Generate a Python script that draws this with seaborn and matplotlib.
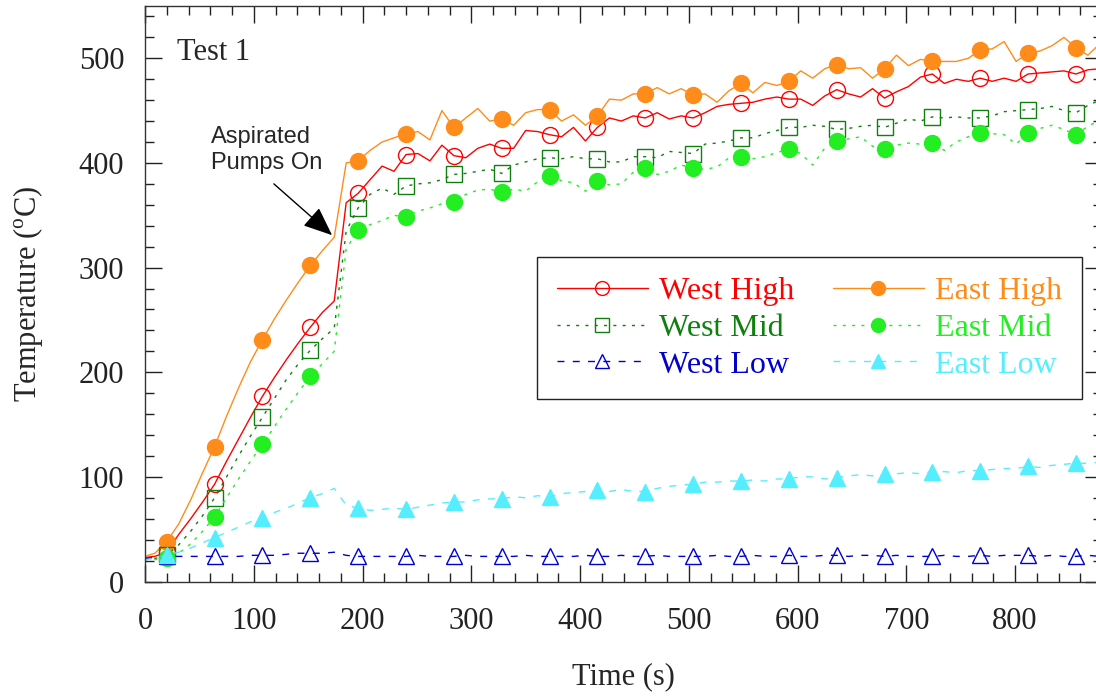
import numpy as np
import pandas as pd
import matplotlib
matplotlib.use("Agg")
import matplotlib.pyplot as plt
import seaborn as sns
from matplotlib.lines import Line2D
from matplotlib.ticker import MultipleLocator


# =========================
# 1. DATA (11 s grid, markers every 44 s)
# =========================
time_s = np.concatenate([[0], np.arange(9, 889, 11)])

west_high = [23, 24,
             28, 45, 60, 76,
             93, 115, 136, 157,
             177, 195, 212, 228,
             243, 257, 268, 362,
             371, 384, 397, 392,
             408, 409, 402, 417,
             407, 405, 414, 418,
             414, 414, 431, 430,
             427, 425, 434, 421,
             434, 443, 440, 445,
             443, 448, 442, 445,
             443, 448, 454, 456,
             457, 458, 461, 463,
             461, 461, 455, 464,
             470, 466, 463, 471,
             462, 468, 473, 482,
             485, 476, 480, 478,
             481, 478, 481, 478,
             485, 486, 487, 488,
             485, 489, 490]

east_high = [24, 27,
             38, 55, 78, 104,
             129, 158, 185, 210,
             231, 251, 269, 286,
             302, 316, 329, 400,
             402, 412, 420, 424,
             428, 430, 422, 450,
             434, 443, 452, 440,
             442, 436, 448, 451,
             451, 440, 446, 436,
             445, 461, 460, 466,
             466, 472, 466, 471,
             465, 466, 458, 469,
             476, 467, 477, 474,
             478, 488, 481, 490,
             494, 490, 491, 481,
             490, 503, 493, 499,
             497, 497, 497, 500,
             508, 509, 516, 497,
             505, 507, 512, 520,
             510, 503, 514]

west_mid = [22, 22,
            25, 35, 48, 63,
            80, 100, 120, 139,
            157, 175, 193, 208,
            221, 232, 242, 335,
            357, 370, 376, 370,
            378, 380, 381, 384,
            389, 390, 392, 394,
            390, 398, 401, 404,
            405, 404, 406, 404,
            404, 401, 401, 406,
            406, 405, 411, 410,
            409, 418, 419, 421,
            424, 424, 428, 431,
            434, 434, 436, 435,
            432, 433, 435, 436,
            434, 438, 442, 440,
            444, 443, 444, 443,
            443, 445, 449, 450,
            451, 452, 454, 450,
            448, 455, 460]

east_mid = [21, 21,
            22, 27, 36, 48,
            62, 80, 98, 115,
            131, 148, 165, 181,
            196, 208, 220, 318,
            336, 341, 345, 350,
            348, 354, 357, 361,
            363, 370, 374, 375,
            372, 375, 373, 382,
            388, 383, 381, 373,
            383, 379, 380, 391,
            395, 389, 392, 398,
            395, 394, 396, 405,
            406, 404, 406, 410,
            413, 409, 398, 414,
            421, 423, 425, 416,
            413, 417, 419, 418,
            419, 412, 420, 425,
            429, 428, 427, 418,
            429, 433, 436, 432,
            427, 435, 441]

west_low = [22, 23,
            24, 24, 24, 24,
            24, 24, 24, 25,
            25, 25, 26, 27,
            27, 27, 28, 25,
            24, 24, 24, 24,
            24, 25, 24, 24,
            24, 25, 24, 24,
            24, 24, 25, 24,
            24, 24, 24, 25,
            24, 24, 25, 24,
            24, 25, 24, 24,
            24, 24, 25, 24,
            24, 25, 24, 24,
            25, 24, 24, 25,
            25, 24, 25, 25,
            24, 25, 24, 24,
            24, 25, 24, 24,
            25, 24, 25, 25,
            25, 24, 25, 24,
            24, 25, 24]

east_low = [21, 22,
            25, 28, 32, 37,
            42, 47, 52, 57,
            61, 66, 70, 75,
            80, 84, 89, 73,
            70, 68, 69, 70,
            69, 71, 73, 75,
            76, 76, 78, 79,
            79, 81, 80, 82,
            81, 84, 85, 86,
            87, 86, 88, 86,
            86, 89, 91, 92,
            93, 95, 95, 96,
            96, 97, 96, 98,
            98, 100, 100, 98,
            99, 101, 102, 101,
            103, 103, 104, 103,
            105, 105, 104, 106,
            106, 107, 108, 108,
            110, 109, 111, 112,
            113, 113, 114]

series_names = ["West High", "West Mid", "West Low", "East High", "East Mid", "East Low"]

df = pd.DataFrame({
    "time": time_s,
    "West High": west_high,
    "West Mid": west_mid,
    "West Low": west_low,
    "East High": east_high,
    "East Mid": east_mid,
    "East Low": east_low,
})

# colour, line style, marker, filled
styles = {
    "West High": ("#FF0000", "-", "o", False),
    "West Mid": ("#0F7F0F", (0, (2.2, 4.5)), "s", False),
    "West Low": ("#0000D0", (0, (5, 6)), "^", False),
    "East High": ("#FF8C1A", "-", "o", True),
    "East Mid": ("#22EE22", (0, (2.2, 4.5)), "o", True),
    "East Low": ("#55EEFF", (0, (5, 6)), "^", True),
}


# =========================
# 2. PLOT
# =========================
sns.set_style("ticks")
plt.rcParams["font.family"] = ["Liberation Serif", "DejaVu Serif"]
plt.rcParams["mathtext.fontset"] = "custom"
plt.rcParams["mathtext.rm"] = "Liberation Serif"

fig = plt.figure(figsize=(10.96, 6.96), dpi=100)
ax = fig.add_axes([0.1323, 0.1645, 0.8732, 0.8269])

plot_order = ["West High", "East High", "West Mid", "East Mid", "West Low", "East Low"]
for name in plot_order:
    color, ls, mk, filled = styles[name]
    sns.lineplot(
        data=df, x="time", y=name, ax=ax,
        estimator=None, sort=False,
        color=color, linestyle=ls, linewidth=1.0,
        marker=mk, markersize=11.5, markevery=slice(2, None, 4),
        markerfacecolor=color if filled else "none",
        markeredgecolor=color, markeredgewidth=1.0,
    )

ax.set_xlim(0, 880)
ax.set_ylim(0, 550)
ax.xaxis.set_major_locator(MultipleLocator(100))
ax.xaxis.set_minor_locator(MultipleLocator(20))
ax.yaxis.set_major_locator(MultipleLocator(100))
ax.yaxis.set_minor_locator(MultipleLocator(20))
ax.tick_params(which="both", direction="in", top=True, right=True, colors="#222222")
ax.tick_params(which="major", length=12, width=1.0, labelsize=22)
ax.tick_params(which="minor", length=6.5, width=1.0)
ax.tick_params(axis="x", which="major", pad=18)
ax.tick_params(axis="y", which="major", pad=15)
for sp in ax.spines.values():
    sp.set_color("#333333")
    sp.set_linewidth(1.0)

ax.set_xlabel("Time (s)", fontsize=22, labelpad=19)
ax.set_ylabel("Temperature ($^\\mathrm{o}$C)", fontsize=22, labelpad=24)

ax.text(29.5, 498, "Test 1", fontsize=22, va="baseline")

ax.text(61, 435, "Aspirated\nPumps On", fontsize=17, family=["Liberation Sans", "DejaVu Sans"],
        ha="left", va="top", linespacing=1.2)
ax.annotate("", xy=(172, 331), xytext=(118.5, 380),
            arrowprops=dict(arrowstyle="-|>,head_length=0.6,head_width=0.25",
                            color="black", lw=1.0, mutation_scale=30,
                            shrinkA=0, shrinkB=0))

handles = []
for name in series_names:
    color, ls, mk, filled = styles[name]
    handles.append(Line2D([], [], color=color, linestyle=ls, linewidth=1.0,
                          marker=mk, markersize=10,
                          markerfacecolor=color if filled else "none",
                          markeredgecolor=color, markeredgewidth=1.0))

leg = ax.legend(handles, series_names, ncol=2, loc="upper left",
                bbox_to_anchor=(0.4096, 0.5639), borderaxespad=0,
                fontsize=23, handlelength=2.85, handletextpad=0.35,
                columnspacing=1.2, labelspacing=0.23, borderpad=0.62,
                frameon=True, fancybox=False, edgecolor="#222222",
                framealpha=1, labelcolor="linecolor")
leg.get_frame().set_linewidth(1.0)

plt.savefig("out.png", dpi=100)
